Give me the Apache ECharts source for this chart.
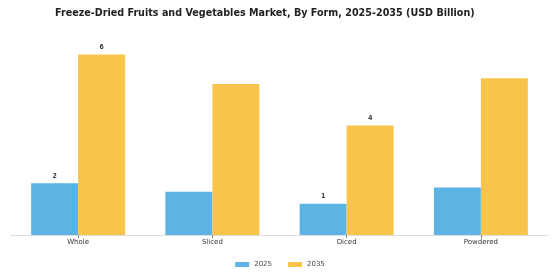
<!DOCTYPE html>
<html>
<head>
<meta charset="utf-8">
<script src="https://cdn.jsdelivr.net/npm/echarts@6/dist/echarts.min.js"></script>
<style>
  html, body { margin: 0; padding: 0; background: #fff; }
  #chart { width: 560px; height: 280px; }
</style>
</head>
<body>
<div id="chart"></div>
<script>
const categories = ['Whole', 'Sliced', 'Diced', 'Powdered'];
const values2025 = [1.78, 1.49, 1.07, 1.63];
const values2035 = [6.2, 5.19, 3.76, 5.39];
// only some bars carry a value label in the source
const labelled2025 = [true, false, true, false];
const labelled2035 = [true, false, true, false];

const chart = echarts.init(document.getElementById('chart'));

const toData = (values, flags) => values.map((v, i) => ({
  value: v,
  label: { show: flags[i] }
}));

const barLabel = {
  position: 'top',
  distance: 4,
  fontSize: 7,
  fontWeight: 'bold',
  color: '#222',
  formatter: p => Math.round(p.value)
};

chart.setOption({
  animation: false,
  title: {
    text: 'Freeze-Dried Fruits and Vegetables Market, By Form, 2025-2035 (USD Billion)',
    left: 50,
    top: 3,
    textStyle: {
      fontFamily: 'DejaVu Sans',
      fontSize: 9.6,
      fontWeight: 'bold',
      color: '#222'
    }
  },
  grid: {
    top: 40,
    left: 11,
    right: 12,
    bottom: 45
  },
  legend: {
    bottom: 7,
    left: 'center',
    itemWidth: 14,
    itemHeight: 5,
    itemGap: 16,
    icon: 'rect',
    textStyle: {
      fontFamily: 'DejaVu Sans',
      fontSize: 7,
      color: '#444'
    }
  },
  xAxis: {
    type: 'category',
    data: categories,
    axisLine: { lineStyle: { color: '#ddd' } },
    axisTick: { show: true, alignWithLabel: true, length: 3, lineStyle: { color: '#888' } },
    axisLabel: {
      fontFamily: 'DejaVu Sans',
      fontSize: 7,
      color: '#333',
      margin: 4
    }
  },
  yAxis: {
    type: 'value',
    min: 0,
    max: 6.7,
    show: false,
    splitLine: { show: false }
  },
  series: [
    {
      name: '2025',
      type: 'bar',
      barGap: 0,
      barCategoryGap: '30%',
      itemStyle: { color: '#5DB3E4' },
      label: barLabel,
      data: toData(values2025, labelled2025)
    },
    {
      name: '2035',
      type: 'bar',
      itemStyle: { color: '#F9C44B' },
      label: barLabel,
      data: toData(values2035, labelled2035)
    }
  ]
});
</script>
</body>
</html>
